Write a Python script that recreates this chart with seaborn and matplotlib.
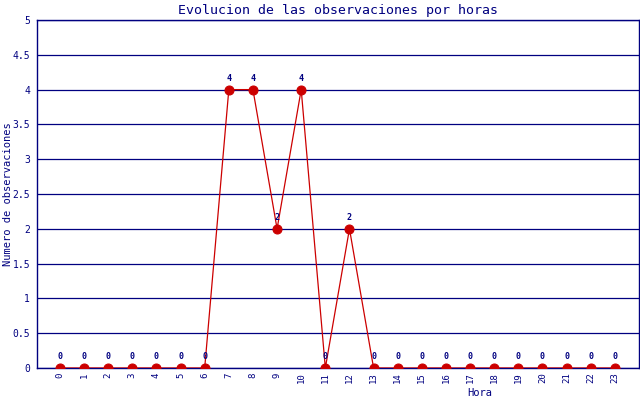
import pandas as pd
import matplotlib.pyplot as plt
import seaborn as sns

horas = list(range(24))
observaciones = [0, 0, 0, 0, 0, 0, 0, 4, 4, 2, 4, 0, 2, 0, 0, 0, 0, 0, 0, 0, 0, 0, 0, 0]
y_ticks = [0, 0.5, 1, 1.5, 2, 2.5, 3, 3.5, 4, 4.5, 5]
y_tick_labels = ["0", "0.5", "1", "1.5", "2", "2.5", "3", "3.5", "4", "4.5", "5"]

df = pd.DataFrame({"hora": horas, "obs": observaciones})

navy = "#000080"
red = "#cc0000"

sns.set_style("white")
plt.rcParams["font.family"] = ["DejaVu Sans Mono"]

fig = plt.figure(figsize=(6.4, 4.0), dpi=100)
ax = fig.add_axes([37 / 640, 32 / 400, 602 / 640, 348 / 400])

# horizontal grid lines
for yv in y_ticks:
    ax.axhline(yv, color=navy, linewidth=0.9, zorder=1)

sns.lineplot(data=df, x="hora", y="obs", ax=ax, color=red, linewidth=0.9,
             marker="o", markersize=6.5, markeredgecolor=red, markerfacecolor=red,
             zorder=3)

# value labels
for h, v in zip(horas, observaciones):
    ax.annotate(str(v), xy=(h, v), xytext=(0, 5), textcoords="offset points",
                ha="center", va="bottom", fontsize=6, fontweight="bold",
                color=navy, zorder=4)

ax.set_xlim(-0.95, 24)
ax.set_ylim(0, 5)
ax.set_yticks(y_ticks)
ax.set_yticklabels(y_tick_labels)
ax.set_xticks(horas)
ax.set_xticklabels([str(h) for h in horas], rotation=90)
ax.tick_params(axis="x", direction="in", length=3, width=1, color=navy,
               labelsize=6.5, labelcolor=navy, pad=3)
ax.tick_params(axis="y", length=0, labelsize=7, labelcolor=navy, pad=5)

for s in ax.spines.values():
    s.set_color(navy)
    s.set_linewidth(1.0)

ax.set_title("Evolucion de las observaciones por horas", color=navy, fontsize=9.5, pad=4)
ax.set_ylabel("")
ax.set_xlabel("")
fig.text(8 / 640, 1 - 194 / 400, "Numero de observaciones", color=navy,
         fontsize=7.5, rotation=90, ha="center", va="center")
fig.text(480 / 640, 1 - 393 / 400, "Hora", color=navy, fontsize=7.5,
         ha="center", va="center")

fig.savefig("out.png", dpi=100)
